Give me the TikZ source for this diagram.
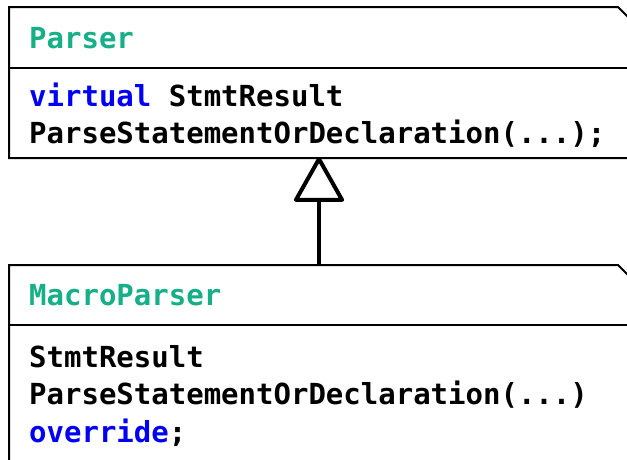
\documentclass[tikz,border=0pt]{standalone}
\usepackage{fontspec}
\setmonofont{DejaVu Sans Mono}
\usetikzlibrary{arrows.meta}
\definecolor{clsgreen}{RGB}{22,176,136}
\definecolor{kwblue}{RGB}{0,0,245}
\tikzset{
  umlbox/.style={draw=black, line width=2pt, fill=white},
  codetext/.style={anchor=base west, inner sep=0pt, font=\fontsize{29}{37}\selectfont\ttfamily\bfseries},
  inherit/.style={line width=4pt, -{Triangle[open, length=47pt, width=52pt, round]}}
}
\begin{document}
\begin{tikzpicture}[x=1pt, y=-1pt]
\useasboundingbox (0,0) rectangle (627,459);
\clip (0,0) rectangle (627,459);
% Parser box
\draw[umlbox] (9,158) -- (9,7) -- (618,7) -- (640,29) -- (640,158) -- cycle;
\draw[line width=2pt] (9,68) -- (640,68);
% MacroParser box
\draw[umlbox] (9,470) -- (9,265) -- (618,265) -- (640,287) -- (640,470) -- cycle;
\draw[line width=2pt] (9,325) -- (640,325);
% texts
\node[codetext, text=clsgreen] (pname) at (29,48) {Parser};
\node[codetext] (pm1) at (29,106) {\textcolor{kwblue}{virtual} StmtResult};
\node[codetext] (pm2) at (29,143) {ParseStatementOrDeclaration(...);};
\node[codetext, text=clsgreen] (mname) at (29,305) {MacroParser};
\node[codetext] (mm1) at (29,367) {StmtResult};
\node[codetext] (mm2) at (29,404) {ParseStatementOrDeclaration(...)};
\node[codetext] (mm3) at (29,442) {\textcolor{kwblue}{override};};
% inheritance
\coordinate (ptop) at (319,157);
\coordinate (mtop) at (319,265);
\draw[inherit] (mtop) -- (ptop);
\end{tikzpicture}
\end{document}
